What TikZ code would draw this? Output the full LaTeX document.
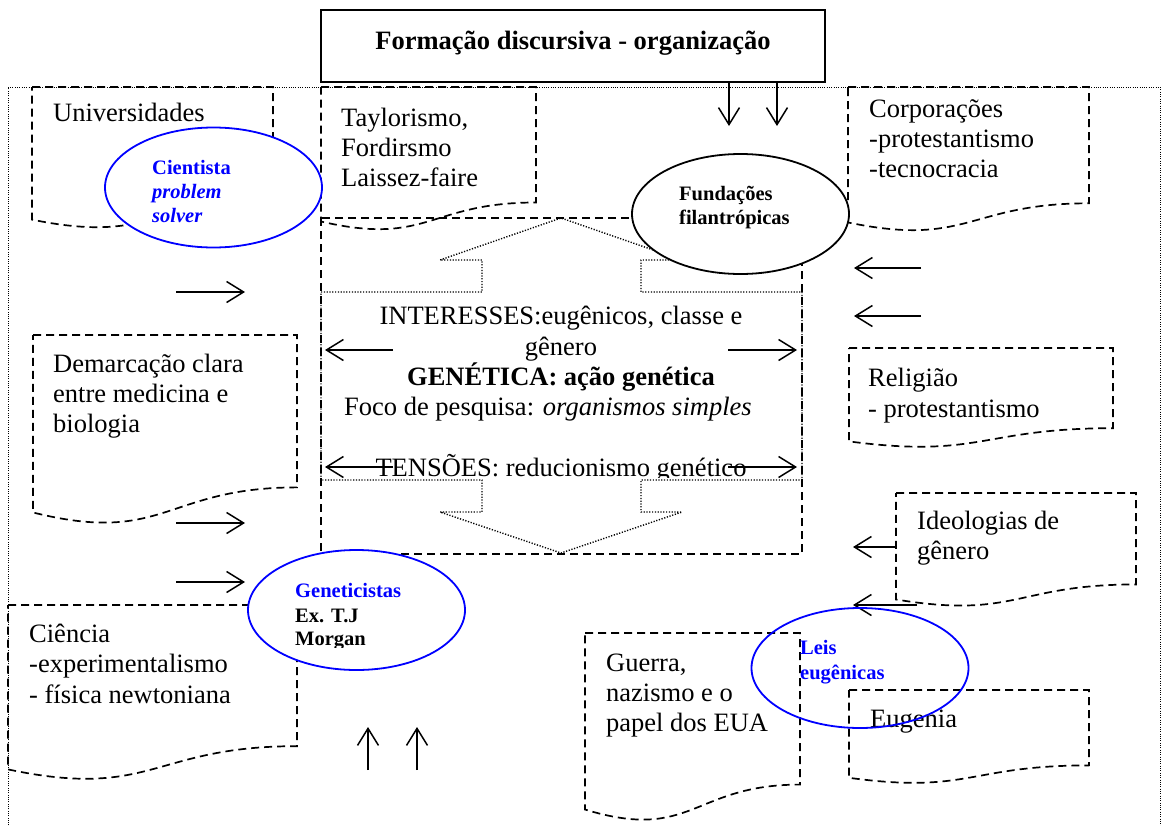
\documentclass[tikz,border=0pt]{standalone}
\usepackage{fontspec}
\setmainfont{Liberation Serif}
\usetikzlibrary{arrows.meta,shapes.geometric}
\definecolor{wblue}{RGB}{0,0,255}
\newcommand\docbox[4]{%
  \pgfmathsetmacro\dbxr{#1+#3}%
  \pgfmathsetmacro\dbxm{#1+0.5*#3}%
  \pgfmathsetmacro\dbyr{#2+0.802*#4}%
  \pgfmathsetmacro\dbyc{#2+1.1075*#4}%
  \pgfmathsetmacro\dbyl{#2+0.934*#4}%
  \draw[dbox] (#1,#2) -- (\dbxr,#2) -- (\dbxr,\dbyr) .. controls (\dbxm,\dbyr) and (\dbxm,\dbyc) .. (#1,\dbyl) -- cycle;}
\begin{document}
\begin{tikzpicture}[x=1pt,y=-1pt,
  dbox/.style={draw=black, line width=1.7pt, dash pattern=on 8pt off 5pt},
  frame/.style={draw=black, line width=1pt, dash pattern=on 1pt off 1.3pt},
  dotshape/.style={draw=black, line width=1.4pt, dash pattern=on 1.2pt off 1.6pt},
  txt/.style={anchor=base west, inner sep=0pt, font=\fontsize{26.5}{30}\selectfont},
  ctxt/.style={anchor=base, inner sep=0pt, font=\fontsize{26.5}{30}\selectfont},
  etxt/.style={anchor=base west, inner sep=0pt, font=\fontsize{20.5}{24}\selectfont\bfseries},
  ell/.style={ellipse, draw, line width=1.8pt, fill=white, inner sep=0pt, minimum width=217pt, minimum height=120pt},
  arr/.style={line width=1.5pt, -{Straight Barb[length=17pt,width=21pt]}}
]
\useasboundingbox (0,0) rectangle (1162,825);
% outer dotted frame
\draw[frame] (8,830) -- (8,87) -- (1160,87) -- (1160,830);
% title
\node[draw, line width=1.6pt, inner sep=0pt, minimum width=504pt, minimum height=72pt] (title) at (573,46) {};
\node[ctxt, font=\fontsize{26.5}{30}\selectfont\bfseries] (titletext) at (573,49) {Formação discursiva - organização};
% document boxes
\docbox{32}{87}{241}{142}
\docbox{321}{87}{215}{144}
\docbox{848}{87}{241}{145}
\docbox{33}{335}{264}{190}
\docbox{8}{605}{289}{176}
\docbox{849}{348}{264}{100}
\docbox{896}{493}{240}{114}
\docbox{585}{633}{215}{189}
\docbox{849}{690}{240}{94}
% central box
\draw[dbox] (321,218) rectangle (802,554);
\draw[dotshape] (321,292) -- (482,292) -- (482,260) -- (440,260) -- (561,218) -- (682,260) -- (641,260) -- (641,292) -- (802,292) -- (802,480) -- (641,480) -- (641,512) -- (682,512) -- (561,553) -- (440,512) -- (482,512) -- (482,480) -- (321,480) -- cycle;
% box texts
\node[txt] (univ) at (53,121) {Universidades};
\node[txt] (tay1) at (341,126) {Taylorismo,};
\node[txt] (tay2) at (341,156) {Fordirsmo};
\node[txt] (tay3) at (341,186) {Laissez-faire};
\node[txt] (cor1) at (869,117) {Corporações};
\node[txt] (cor2) at (869,147) {-protestantismo};
\node[txt] (cor3) at (869,177) {-tecnocracia};
\node[txt] (dem1) at (53,372) {Demarcação clara};
\node[txt] (dem2) at (53,402) {entre medicina e};
\node[txt] (dem3) at (53,432) {biologia};
\node[txt] (cie1) at (29,642) {Ciência};
\node[txt] (cie2) at (29,672) {-experimentalismo};
\node[txt] (cie3) at (29,703) {- física newtoniana};
\node[txt] (rel1) at (868,386) {Religião};
\node[txt] (rel2) at (868,417) {- protestantismo};
\node[txt] (ide1) at (917,529) {Ideologias de};
\node[txt] (ide2) at (917,559) {gênero};
\node[txt] (gue1) at (606,671) {Guerra,};
\node[txt] (gue2) at (606,701) {nazismo e o};
\node[txt] (gue3) at (606,731) {papel dos EUA};
\node[txt] (eug) at (870,727) {Eugenia};
% central texts
\node[ctxt] (int1) at (561,324) {INTERESSES:eugênicos, classe e};
\node[ctxt] (int2) at (561,355) {gênero};
\node[ctxt, font=\fontsize{26.5}{30}\selectfont\bfseries] (gen) at (561,385) {GENÉTICA: ação genética};
\node[ctxt] (foco) at (548,415) {Foco de pesquisa: \textit{organismos simples}};
\begin{scope}
\clip (321,218) rectangle (802,477);
\node[ctxt] (tens) at (561,476) {TENSÕES: reducionismo genético};
\end{scope}
% arrows
\coordinate (d1s) at (729,82); \coordinate (d1e) at (729,126);
\coordinate (d2s) at (777,82); \coordinate (d2e) at (777,126);
\draw[arr] (d1s) -- (d1e);
\draw[arr] (d2s) -- (d2e);
\coordinate (l1s) at (176,292); \coordinate (l1e) at (245,292);
\coordinate (l2s) at (176,523); \coordinate (l2e) at (245,523);
\coordinate (l3s) at (176,582); \coordinate (l3e) at (245,582);
\draw[arr] (l1s) -- (l1e);
\draw[arr] (l2s) -- (l2e);
\draw[arr] (l3s) -- (l3e);
\coordinate (c1s) at (393,350); \coordinate (c1e) at (325,350);
\coordinate (c2s) at (728,350); \coordinate (c2e) at (797,350);
\coordinate (c3s) at (393,467); \coordinate (c3e) at (325,467);
\coordinate (c4s) at (728,467); \coordinate (c4e) at (797,467);
\draw[arr] (c1s) -- (c1e);
\draw[arr] (c2s) -- (c2e);
\draw[arr] (c3s) -- (c3e);
\draw[arr] (c4s) -- (c4e);
\coordinate (r1s) at (921,268); \coordinate (r1e) at (854,268);
\coordinate (r2s) at (921,316); \coordinate (r2e) at (854,316);
\coordinate (r3s) at (896,547); \coordinate (r3e) at (853,547);
\coordinate (r4s) at (917,605); \coordinate (r4e) at (853,605);
\draw[arr] (r1s) -- (r1e);
\draw[arr] (r2s) -- (r2e);
\draw[arr] (r3s) -- (r3e);
\draw[arr] (r4s) -- (r4e);
\coordinate (u1s) at (368,770); \coordinate (u1e) at (368,727);
\coordinate (u2s) at (417,770); \coordinate (u2e) at (417,727);
\draw[arr] (u1s) -- (u1e);
\draw[arr] (u2s) -- (u2e);
% ellipses
\node[ell, draw=wblue] (cient) at (213.5,187.5) {};
\node[ell] (fund) at (740.5,214) {};
\node[ell, draw=wblue] (genet) at (356.5,610) {};
\node[ell, draw=wblue, fill=none] (leis) at (860,668) {};
% ellipse texts
\node[etxt, text=wblue] (ci1) at (152,174) {Cientista};
\node[etxt, text=wblue] (ci2) at (152,198) {\itshape problem};
\node[etxt, text=wblue] (ci3) at (152,222) {\itshape solver};
\node[etxt] (fu1) at (679,200) {Fundações};
\node[etxt] (fu2) at (679,224) {filantrópicas};
\node[etxt, text=wblue] (ge1) at (295,597) {Geneticistas};
\node[etxt] (ge2) at (295,622) {Ex. T.J};
\begin{scope}
\clip (250,560) rectangle (460,647);
\node[etxt] (ge3) at (295,645) {Morgan};
\end{scope}
\node[etxt, text=wblue] (le1) at (800,654) {Leis};
\node[etxt, text=wblue] (le2) at (800,679) {eugênicas};
\end{tikzpicture}
\end{document}
